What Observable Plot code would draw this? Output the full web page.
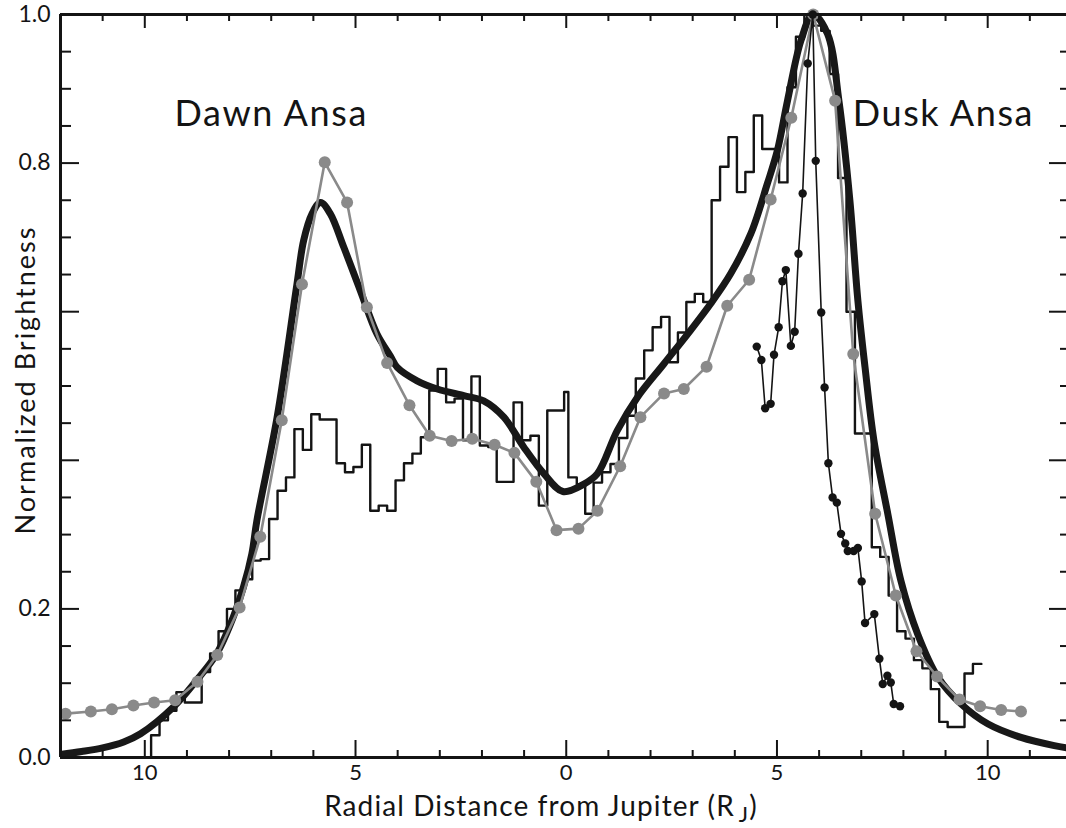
<!DOCTYPE html>
<html>
<head>
<meta charset="utf-8">
<script src="https://cdn.jsdelivr.net/npm/d3@7"></script>
<script src="https://cdn.jsdelivr.net/npm/@observablehq/plot@0.6"></script>
<style>
  html, body { margin: 0; padding: 0; background: #fff; overflow: hidden; }
</style>
</head>
<body>
<div id="chart"></div>
<script>
// Model brightness profile (thick curve), radial distance in R_J (dawn negative)
const modelX = [-12, -11.5, -11, -10.5, -10.1, -9.32, -8.77, -8.29, -7.9, -7.66, -7.46, -7.34, -6.86, -6.39, -6.23, -6.03, -5.83, -5.6, -5.28, -4.89, -4.49, -4.17, -4.01, -3.54, -3.06, -2.43, -1.96, -1.48, -1.01, -0.53, -0.08, 0.42, 0.74, 1.21, 1.69, 2.32, 2.95, 3.43, 3.9, 4.38, 4.77, 5.01, 5.25, 5.57, 5.85, 6.2, 6.47, 6.73, 6.92, 7.09, 7.3, 7.63, 7.94, 8.34, 8.82, 9.37, 10.01, 10.79, 11.58, 12];
const modelY = [0.004, 0.008, 0.013, 0.021, 0.032, 0.068, 0.104, 0.14, 0.189, 0.229, 0.274, 0.319, 0.458, 0.637, 0.696, 0.732, 0.747, 0.732, 0.687, 0.629, 0.57, 0.54, 0.525, 0.507, 0.496, 0.487, 0.48, 0.458, 0.418, 0.382, 0.358, 0.368, 0.382, 0.44, 0.485, 0.53, 0.575, 0.611, 0.651, 0.705, 0.772, 0.817, 0.884, 0.965, 1.0, 0.974, 0.884, 0.75, 0.615, 0.525, 0.427, 0.328, 0.238, 0.166, 0.108, 0.072, 0.045, 0.027, 0.016, 0.012];

// Grey profile with large markers
const greyX = [-11.88, -11.28, -10.78, -10.27, -9.78, -9.28, -8.75, -8.28, -7.75, -7.26, -6.75, -6.27, -5.73, -5.2, -4.73, -4.25, -3.72, -3.24, -2.72, -2.23, -1.7, -1.23, -0.71, -0.23, 0.29, 0.74, 1.28, 1.76, 2.32, 2.79, 3.33, 3.82, 4.34, 4.85, 5.34, 5.86, 6.38, 6.81, 7.33, 7.82, 8.31, 8.8, 9.33, 9.82, 10.32, 10.79];
const greyY = [0.059, 0.062, 0.065, 0.07, 0.074, 0.077, 0.102, 0.138, 0.202, 0.297, 0.454, 0.637, 0.801, 0.747, 0.606, 0.531, 0.474, 0.433, 0.426, 0.429, 0.421, 0.41, 0.371, 0.306, 0.308, 0.332, 0.392, 0.458, 0.49, 0.496, 0.526, 0.608, 0.643, 0.751, 0.861, 1.0, 0.884, 0.543, 0.328, 0.218, 0.143, 0.109, 0.078, 0.069, 0.064, 0.062];

// Dusk-side scan with small markers
const duskX = [4.52, 4.63, 4.72, 4.85, 4.93, 5.04, 5.13, 5.21, 5.33, 5.42, 5.51, 5.61, 5.73, 5.85, 5.92, 6.05, 6.13, 6.22, 6.32, 6.42, 6.52, 6.62, 6.68, 6.82, 6.92, 7.01, 7.09, 7.31, 7.43, 7.51, 7.62, 7.7, 7.77, 7.92];
const duskY = [0.553, 0.535, 0.47, 0.476, 0.542, 0.579, 0.641, 0.656, 0.554, 0.573, 0.678, 0.759, 0.934, 1.0, 0.803, 0.599, 0.498, 0.396, 0.35, 0.343, 0.301, 0.288, 0.278, 0.278, 0.282, 0.237, 0.181, 0.193, 0.133, 0.099, 0.11, 0.101, 0.072, 0.069];

// Binned profile (thin histogram): 0.2 R_J bins on each ansa, narrow bin at centre
const binWidth = 0.2;
const histDawn = [0.03, 0.05, 0.063, 0.088, 0.074, 0.074, 0.115, 0.14, 0.17, 0.2, 0.225, 0.24, 0.265, 0.267, 0.321, 0.359, 0.377, 0.442, 0.414, 0.462, 0.455, 0.455, 0.396, 0.384, 0.391, 0.421, 0.332, 0.339, 0.332, 0.373, 0.396, 0.409, 0.431, 0.494, 0.523, 0.478, 0.483, 0.427, 0.513, 0.42, 0.418, 0.371, 0.371, 0.478, 0.427, 0.433, 0.339, 0.467, 0.467];
const histCentre = 0.492;
const histDusk = [0.377, 0.368, 0.328, 0.37, 0.384, 0.395, 0.43, 0.46, 0.51, 0.548, 0.579, 0.593, 0.532, 0.572, 0.613, 0.624, 0.613, 0.75, 0.795, 0.835, 0.761, 0.788, 0.864, 0.819, 0.819, 0.774, 0.902, 0.97, 1.0, 0.985, 0.978, 0.92, 0.78, 0.6, 0.436, 0.436, 0.283, 0.27, 0.218, 0.17, 0.16, 0.131, 0.12, 0.092, 0.048, 0.041, 0.041, 0.113, 0.126];

// Axis ticks
const xMajor = [-10, -5, 0, 5, 10];
const xMinor = [-11, -9, -8, -7, -6, -4, -3, -2, -1, 1, 2, 3, 4, 6, 7, 8, 9, 11];
const yMajor = [0, 0.2, 0.4, 0.6, 0.8, 1.0];
const yMinor = [0.05, 0.1, 0.15, 0.25, 0.3, 0.35, 0.45, 0.5, 0.55, 0.65, 0.7, 0.75, 0.85, 0.9, 0.95];
const yLabelled = [0, 0.2, 0.8, 1.0];

// ---- build tables ----
const pairs = (xs, ys) => xs.map((x, i) => ({x, y: ys[i]}));
const model = pairs(modelX, modelY);
const grey = pairs(greyX, greyY);
const dusk = pairs(duskX, duskY);

// histogram as step-after vertices (left edge of each bin)
const half = 0.05;
const hist = [];
const nD = histDawn.length;
hist.push({x: -(half + binWidth * nD), y: 0});
histDawn.forEach((v, i) => hist.push({x: -(half + binWidth * (nD - i)), y: v}));
hist.push({x: -half, y: histCentre});
histDusk.forEach((v, i) => hist.push({x: half + binWidth * i, y: v}));
hist.push({x: half + binWidth * histDusk.length, y: histDusk[histDusk.length - 1]});

const W = 1066, H = 828;
const mL = 60, mR = 0, mT = 14, mB = 71;
const plotW = W - mL - mR, plotH = H - mT - mB;
const font = "Lato, 'DejaVu Sans', sans-serif";
const ink = "#141414";

const chart = Plot.plot({
  width: W, height: H,
  marginLeft: mL, marginRight: mR, marginTop: mT, marginBottom: mB,
  style: {fontFamily: font, background: "#fff", color: ink},
  x: {domain: [-12, 11.87], axis: null},
  y: {domain: [0, 1], axis: null},
  marks: [
    Plot.line(hist, {x: "x", y: "y", curve: "step-after", stroke: ink, strokeWidth: 2.4, clip: true}),
    Plot.line(model, {x: "x", y: "y", curve: "catmull-rom", stroke: "#181818", strokeWidth: 7, clip: true}),
    Plot.line(grey, {x: "x", y: "y", stroke: "#8a8a8a", strokeWidth: 2.6}),
    Plot.dot(grey, {x: "x", y: "y", r: 6, fill: "#8a8a8a", stroke: "none"}),
    Plot.line(dusk, {x: "x", y: "y", stroke: ink, strokeWidth: 1.6}),
    Plot.dot(dusk, {x: "x", y: "y", r: 4.2, fill: ink, stroke: "none"}),

    // frame (left, bottom, top)
    Plot.ruleX([-12], {stroke: ink, strokeWidth: 3}),
    Plot.ruleY([0, 1], {stroke: ink, strokeWidth: 3}),

    // inward ticks
    Plot.tickX(xMajor, {x: d => d, insetTop: plotH - 17, stroke: ink, strokeWidth: 2}),
    Plot.tickX(xMinor, {x: d => d, insetTop: plotH - 7, stroke: ink, strokeWidth: 2}),
    Plot.tickX(xMajor, {x: d => d, insetBottom: plotH - 14, stroke: ink, strokeWidth: 2}),
    Plot.tickX(xMinor, {x: d => d, insetBottom: plotH - 7, stroke: ink, strokeWidth: 2}),
    Plot.tickY(yMajor, {y: d => d, insetRight: plotW - 19, stroke: ink, strokeWidth: 2}),
    Plot.tickY(yMinor, {y: d => d, insetRight: plotW - 11, stroke: ink, strokeWidth: 2}),
    Plot.tickY(yMajor, {y: d => d, insetLeft: plotW - 17, stroke: ink, strokeWidth: 2}),
    Plot.tickY(yMinor, {y: d => d, insetLeft: plotW - 6, stroke: ink, strokeWidth: 2}),

    // tick labels
    Plot.text(xMajor, {x: d => d, y: () => 0, text: d => String(Math.abs(d)), dy: 15, lineAnchor: "middle", fontSize: 22, fill: ink}),
    Plot.text(yLabelled, {x: () => -12, y: d => d, text: d => d.toFixed(1), dx: -10, textAnchor: "end", lineAnchor: "middle", fontSize: 23, fill: ink}),

    // ansa annotations
    Plot.text(["Dawn Ansa"], {x: -7.0, y: 0.865, text: d => d, fontSize: 36, lineAnchor: "middle", fill: ink}),
    Plot.text(["Dusk Ansa"], {x: 8.95, y: 0.865, text: d => d, fontSize: 36, lineAnchor: "middle", fill: ink})
  ]
});

document.getElementById("chart").appendChild(chart);

const svg = d3.select(chart);

// wider letter spacing on the annotations
svg.selectAll("text").filter(function () { return /Ansa/.test(this.textContent); })
  .attr("letter-spacing", 1.6);

// axis titles (the x title carries a subscript)
const xt = svg.append("text")
  .attr("x", 541).attr("y", 816)
  .attr("text-anchor", "middle")
  .attr("letter-spacing", 1.1)
  .attr("font-family", font).attr("font-size", 28).attr("fill", ink);
xt.append("tspan").text("Radial Distance from Jupiter (R");
xt.append("tspan").attr("dx", 4).attr("dy", 6).attr("font-size", 22).text("J");
xt.append("tspan").attr("dy", -6).text(")");

svg.append("text")
  .attr("transform", "translate(35,380) rotate(-90)")
  .attr("text-anchor", "middle")
  .attr("letter-spacing", 2)
  .attr("font-family", font).attr("font-size", 27).attr("fill", ink)
  .text("Normalized Brightness");
</script>
</body>
</html>
